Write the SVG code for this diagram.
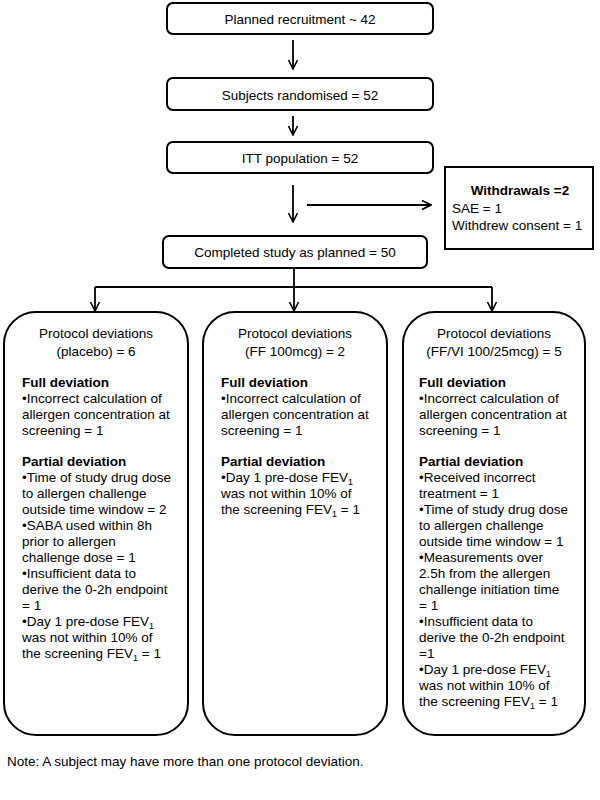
<svg xmlns="http://www.w3.org/2000/svg" width="600" height="800" viewBox="0 0 600 800">
<defs>
<marker id="ah" viewBox="0 0 12 12" refX="11" refY="6" markerWidth="12" markerHeight="12" markerUnits="userSpaceOnUse" orient="auto">
<path d="M2,1.5 L11,6 L2,10.5" fill="none" stroke="#000" stroke-width="1.6"/>
</marker>
<style>
.box{fill:#fff;stroke:#000;stroke-width:2}
.c{stroke:#000;stroke-width:1.8;fill:none}
.a{marker-end:url(#ah)}
text{font-family:"Liberation Sans",Arial,sans-serif;font-size:13.5px;fill:#000}
.m{text-anchor:middle}
.b{font-weight:bold}
.s{font-size:9px}
</style>
</defs>
<rect width="600" height="800" fill="#fff"/>
<g id="planned">
<rect class="box" x="167" y="3" width="266" height="31" rx="6"/>
<text class="m" x="300" y="24">Planned recruitment ~ 42</text>
</g>
<g id="randomised">
<rect class="box" x="167" y="78" width="266" height="32" rx="6"/>
<text class="m" x="300" y="100">Subjects randomised = 52</text>
</g>
<g id="itt">
<rect class="box" x="167" y="142" width="266" height="31" rx="6"/>
<text class="m" x="300" y="163">ITT population = 52</text>
</g>
<g id="withdrawals">
<rect class="box" x="445" y="167" width="148" height="82"/>
<text class="m b" x="520" y="195">Withdrawals =2</text>
<text x="452" y="213">SAE = 1</text>
<text x="452" y="230">Withdrew consent = 1</text>
</g>
<g id="completed">
<rect class="box" x="163" y="236" width="264" height="32" rx="6"/>
<text class="m" x="295" y="257">Completed study as planned = 50</text>
</g>
<g id="connectors">
<line class="c a" x1="293" y1="40" x2="293" y2="69"/>
<line class="c a" x1="293" y1="116" x2="293" y2="135"/>
<line class="c a" x1="293" y1="185" x2="293" y2="222"/>
<line class="c a" x1="307" y1="205" x2="431" y2="205"/>
<polyline class="c" points="294,268 294,287"/>
<polyline class="c" points="95,287 492,287"/>
<line class="c a" x1="95" y1="287" x2="95" y2="311"/>
<line class="c a" x1="294" y1="287" x2="294" y2="311"/>
<line class="c a" x1="492" y1="287" x2="492" y2="311"/>
</g>
<g id="placebo">
<rect class="box" x="4" y="312" width="184" height="423" rx="32"/>
<text class="m" x="96" y="338">Protocol deviations</text>
<text class="m" x="96" y="356">(placebo) = 6</text>
<text class="b" x="22" y="387">Full deviation</text>
<text x="22" y="403">•Incorrect calculation of</text>
<text x="22" y="419">allergen concentration at</text>
<text x="22" y="435">screening = 1</text>
<text class="b" x="22" y="466">Partial deviation</text>
<text x="22" y="482">•Time of study drug dose</text>
<text x="22" y="498">to allergen challenge</text>
<text x="22" y="514">outside time window = 2</text>
<text x="22" y="530">•SABA used within 8h</text>
<text x="22" y="546">prior to allergen</text>
<text x="22" y="562">challenge dose = 1</text>
<text x="22" y="578">•Insufficient data to</text>
<text x="22" y="594">derive the 0-2h endpoint</text>
<text x="22" y="610">= 1</text>
<text x="22" y="626">•Day 1 pre-dose FEV<tspan class="s" dy="3">1</tspan></text>
<text x="22" y="642">was not within 10% of</text>
<text x="22" y="658">the screening FEV<tspan class="s" dy="3">1</tspan><tspan dy="-3"> = 1</tspan></text>
</g>
<g id="ff">
<rect class="box" x="203" y="312" width="184" height="423" rx="32"/>
<text class="m" x="295" y="338">Protocol deviations</text>
<text class="m" x="295" y="356">(FF 100mcg) = 2</text>
<text class="b" x="221" y="387">Full deviation</text>
<text x="221" y="403">•Incorrect calculation of</text>
<text x="221" y="419">allergen concentration at</text>
<text x="221" y="435">screening = 1</text>
<text class="b" x="221" y="466">Partial deviation</text>
<text x="221" y="482">•Day 1 pre-dose FEV<tspan class="s" dy="3">1</tspan></text>
<text x="221" y="498">was not within 10% of</text>
<text x="221" y="514">the screening FEV<tspan class="s" dy="3">1</tspan><tspan dy="-3"> = 1</tspan></text>
</g>
<g id="ffvi">
<rect class="box" x="403" y="312" width="182" height="423" rx="32"/>
<text class="m" x="494" y="338">Protocol deviations</text>
<text class="m" x="494" y="356">(FF/VI 100/25mcg) = 5</text>
<text class="b" x="419" y="387">Full deviation</text>
<text x="419" y="403">•Incorrect calculation of</text>
<text x="419" y="419">allergen concentration at</text>
<text x="419" y="435">screening = 1</text>
<text class="b" x="419" y="466">Partial deviation</text>
<text x="419" y="482">•Received incorrect</text>
<text x="419" y="498">treatment = 1</text>
<text x="419" y="514">•Time of study drug dose</text>
<text x="419" y="530">to allergen challenge</text>
<text x="419" y="546">outside time window = 1</text>
<text x="419" y="562">•Measurements over</text>
<text x="419" y="578">2.5h from the allergen</text>
<text x="419" y="594">challenge initiation time</text>
<text x="419" y="610">= 1</text>
<text x="419" y="626">•Insufficient data to</text>
<text x="419" y="642">derive the 0-2h endpoint</text>
<text x="419" y="658">=1</text>
<text x="419" y="674">•Day 1 pre-dose FEV<tspan class="s" dy="3">1</tspan></text>
<text x="419" y="690">was not within 10% of</text>
<text x="419" y="706">the screening FEV<tspan class="s" dy="3">1</tspan><tspan dy="-3"> = 1</tspan></text>
</g>
<g id="note">
<text x="7" y="766">Note: A subject may have more than one protocol deviation.</text>
</g>
</svg>
